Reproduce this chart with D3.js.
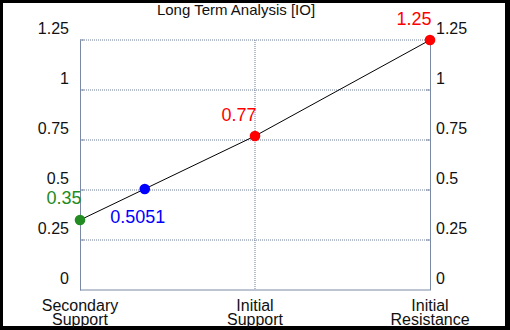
<!DOCTYPE html>
<html>
<head>
<meta charset="utf-8">
<script src="https://cdn.jsdelivr.net/npm/d3@7"></script>
<style>
  body { margin: 0; background: #000; }
  svg { display: block; font-family: Arial, "Liberation Sans", sans-serif; }
</style>
</head>
<body>
<div id="chart"></div>
<script>
// chart values
var title = "Long Term Analysis [IO]";
var categories = ["Secondary\nSupport", "Initial\nSupport", "Initial\nResistance"];
var levels = [0.35, 0.77, 1.25];
var levelColors = ["#228b22", "#ff0000", "#ff0000"];
var currentPrice = 0.5051;
var currentPos = 0.37;   // where the price sits along the category axis
var yTicks = [0, 0.25, 0.5, 0.75, 1, 1.25];

var svgWidth = 510, svgHeight = 330;
var margin = {top: 40, right: 80, bottom: 40, left: 80};
var width = 430 - margin.left;
var height = 290 - margin.top;

var svg = d3.select("#chart").append("svg")
  .attr("width", svgWidth)
  .attr("height", svgHeight);

// white panel inside the black frame
svg.append("rect")
  .attr("x", 3).attr("y", 3)
  .attr("width", svgWidth - 8).attr("height", svgHeight - 7)
  .attr("fill", "#fff");

svg.append("text")
  .attr("x", 236).attr("y", 15)
  .attr("text-anchor", "middle")
  .attr("font-size", 15)
  .attr("fill", "#111")
  .text(title);

var g = svg.append("g")
  .attr("transform", `translate(${margin.left}, ${margin.top})`);

var xScale = d3.scaleLinear().domain([0, 2]).range([0, width]);
var yScale = d3.scaleLinear().domain([0, 1.25]).range([height, 0]);

var axisColor = "#7a8aa6";

// horizontal grid
g.selectAll(".hgrid")
  .data(yTicks.filter(d => d > 0))
  .enter().append("line")
  .attr("x1", 0).attr("x2", width)
  .attr("y1", d => yScale(d)).attr("y2", d => yScale(d))
  .attr("stroke", "#6e7f99")
  .attr("stroke-width", 1)
  .attr("stroke-dasharray", "1,1");

// middle vertical grid
g.append("line")
  .attr("x1", xScale(1)).attr("x2", xScale(1))
  .attr("y1", 0).attr("y2", height)
  .attr("stroke", "#6e7f99")
  .attr("stroke-dasharray", "1,1");

// axes
var leftAxis = d3.axisLeft(yScale).tickValues(yTicks).tickSize(0).tickFormat(d3.format("~g"));
var rightAxis = d3.axisRight(yScale).tickValues(yTicks).tickSize(0).tickFormat(d3.format("~g"));

var la = g.append("g").attr("class", "yaxis").call(leftAxis);
var ra = g.append("g").attr("class", "yaxis").attr("transform", `translate(${width},0)`).call(rightAxis);

[la, ra].forEach(function(a) {
  a.select(".domain").attr("stroke", axisColor);
  a.selectAll("text")
    .attr("font-size", 16)
    .attr("font-family", "Arial, 'Liberation Sans', sans-serif")
    .attr("fill", "#111")
    .attr("dy", null)
    .attr("y", -7);
});
la.selectAll("text").attr("x", -11);
ra.selectAll("text").attr("x", 6);

// small tick stubs on both sides
g.selectAll(".stubL").data(yTicks.filter(d => d > 0)).enter().append("line")
  .attr("x1", 0).attr("x2", 4)
  .attr("y1", d => yScale(d)).attr("y2", d => yScale(d))
  .attr("stroke", axisColor);
g.selectAll(".stubR").data(yTicks.filter(d => d > 0)).enter().append("line")
  .attr("x1", width - 4).attr("x2", width)
  .attr("y1", d => yScale(d)).attr("y2", d => yScale(d))
  .attr("stroke", axisColor);

// bottom axis line
g.append("line")
  .attr("x1", 0).attr("x2", width)
  .attr("y1", height).attr("y2", height)
  .attr("stroke", axisColor);

// category labels
categories.forEach(function(c, i) {
  var t = g.append("text")
    .attr("x", xScale(i))
    .attr("y", height + 21)
    .attr("text-anchor", "middle")
    .attr("font-size", 16)
    .attr("fill", "#111");
  c.split("\n").forEach(function(line, j) {
    t.append("tspan").attr("x", xScale(i)).attr("dy", j === 0 ? 0 : 14).text(line);
  });
});

// line through levels
var line = d3.line().x((d, i) => xScale(i)).y(d => yScale(d));
g.append("path")
  .datum(levels)
  .attr("d", line)
  .attr("fill", "none")
  .attr("stroke", "#000")
  .attr("stroke-width", 1);

// level points
g.selectAll(".lvl")
  .data(levels)
  .enter().append("circle")
  .attr("cx", (d, i) => xScale(i))
  .attr("cy", d => yScale(d))
  .attr("r", 5.3)
  .attr("fill", (d, i) => levelColors[i]);

// level labels
var labelOff = [[-16, -16], [-16, -15], [-16, -15]];
g.selectAll(".lvlLabel")
  .data(levels)
  .enter().append("text")
  .attr("x", (d, i) => xScale(i) + labelOff[i][0])
  .attr("y", (d, i) => yScale(d) + labelOff[i][1])
  .attr("text-anchor", "middle")
  .attr("font-size", 18)
  .attr("fill", (d, i) => levelColors[i])
  .text(d => d);

// current price
g.append("circle")
  .attr("cx", xScale(currentPos))
  .attr("cy", yScale(currentPrice))
  .attr("r", 5.3)
  .attr("fill", "#0000ff");
g.append("text")
  .attr("x", xScale(currentPos) - 7)
  .attr("y", yScale(currentPrice) + 34)
  .attr("text-anchor", "middle")
  .attr("font-size", 18)
  .attr("fill", "#0000ff")
  .text(currentPrice);
</script>
</body>
</html>
